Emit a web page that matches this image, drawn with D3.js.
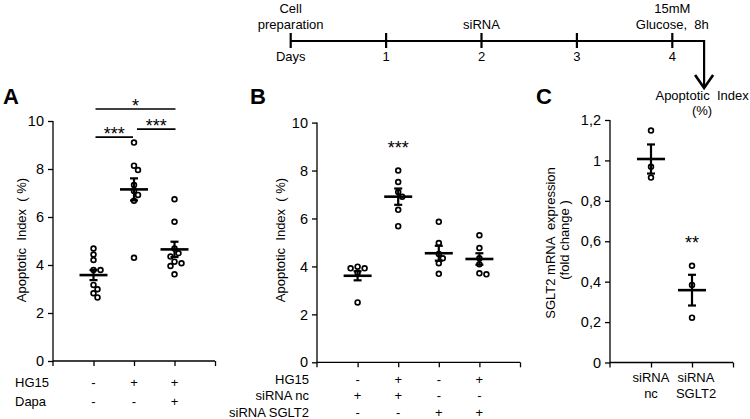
<!DOCTYPE html>
<html><head><meta charset="utf-8">
<script src="https://cdn.jsdelivr.net/npm/d3@7"></script>
<style>
html,body{margin:0;padding:0;background:#fff;}
svg{display:block;font-family:"Liberation Sans",Arial,sans-serif;}
svg text{white-space:pre;}
</style></head>
<body><svg id="c" width="750" height="419"></svg>
<script>
// ---------- DATA ----------
// Panel A: Apoptotic index (%)
const rowsA = ["HG15","Dapa"];
const signsA = [["-","+","+"],["-","-","+"]];
const pointsA = [
  [4.69,4.44,4.21,3.79,3.79,3.17,2.99,2.82,2.65],
  [9.10,8.14,7.96,7.33,7.08,6.92,6.68,4.30],
  [6.74,5.80,4.69,4.49,4.35,4.14,4.07,3.96,3.61]
];
const meansA = [3.58,7.15,4.65];
const semA = [0.21,0.46,0.32];
const sigA = [
  {from:1,to:3,level:10.5,label:"*"},
  {from:1,to:2,level:9.33,label:"***"},
  {from:2,to:3,level:9.66,label:"***"}
];
const ticksA = [0,2,4,6,8,10];

// Panel B
const rowsB = ["HG15","siRNA nc","siRNA SGLT2"];
const signsB = [["-","+","-","+"],["+","+","-","-"],["-","-","+","+"]];
const pointsB = [
  [3.99,3.92,3.92,3.74,2.50],
  [8.00,7.52,7.10,6.91,6.36,5.68],
  [5.86,4.98,4.52,4.34,4.13,3.69],
  [5.30,4.77,4.34,4.09,3.71,3.67]
];
const meansB = [3.61,6.91,4.55,4.31];
const semB = [0.19,0.34,0.31,0.24];
const sigB = [{group:2,level:8.68,label:"***"}];
const ticksB = [0,2,4,6,8,10];

// Panel C: SGLT2 mRNA expression (fold change)
const catsC = [["siRNA","nc"],["siRNA","SGLT2"]];
const pointsC = [[1.148,0.969,0.915],[0.479,0.384,0.222]];
const meansC = [1.007,0.358];
const semC = [0.072,0.076];
const sigC = [{group:2,level:0.563,label:"**"}];
const ticksC = [0,0.2,0.4,0.6,0.8,1.0,1.2];

// Timeline
const dayTicks = [0,1,2,3,4];
const dayLabels = ["Days","1","2","3","4"];
const events = [{day:0,lines:["Cell","preparation"]},{day:2,lines:["siRNA"]},{day:4,lines:["15mM","Glucose,  8h"]}];
const endDay = 4 + 8/24;
const readout = ["Apoptotic  Index","(%)"];

// ---------- DRAW ----------
const svg = d3.select("#c");
const FS = 13;
const TFS = 14.5;
const ink = "#000";

function dodge(vals, y, r){
  const placed = [];
  const order = vals.map((v,i)=>i).sort((a,b)=>vals[b]-vals[a]);
  const offs = [0,4,-4,7,-7,10,-10,13,-13];
  const res = new Array(vals.length);
  order.forEach(i=>{
    const py = y(vals[i]);
    for(const o of offs){
      if(placed.every(p=>Math.hypot(p[0]-o,p[1]-py) >= 2*r+0.5)){
        placed.push([o,py]); res[i]=o; break;
      }
    }
    if(res[i]===undefined){res[i]=0;}
  });
  return res;
}

function panel(opt){
  const g = svg.append("g");
  const x = d3.scaleLinear().domain([0,opt.n+1]).range(opt.xr);
  const y = d3.scaleLinear().domain(opt.yd).range(opt.yr);
  const ya = g.append("g").attr("transform",`translate(${opt.xr[0]},0)`)
    .call(d3.axisLeft(y).tickValues(opt.ticks).tickSize(5).tickPadding(4).tickFormat(opt.fmt||(d=>d)));
  ya.select(".domain").attr("d",`M0,${opt.yr[1]}V${opt.yr[0]+5}`);
  const xa = g.append("g").attr("transform",`translate(0,${opt.yr[0]})`)
    .call(d3.axisBottom(x).tickValues(d3.range(1,opt.n+2)).tickSize(5).tickFormat(""));
  xa.select(".domain").attr("d",`M${opt.xr[0]},0H${opt.xr[1]}`);
  [ya,xa].forEach(a=>{
    a.selectAll("path,line").attr("stroke",ink).attr("stroke-width",1.3);
    a.selectAll("text").attr("font-size",TFS).attr("fill",ink).attr("font-family","Liberation Sans, Arial, sans-serif");
  });
  opt.points.forEach((vals,gi)=>{
    const offs = dodge(vals,y,2.5);
    const cx = x(gi+1);
    g.selectAll(null).data(vals).enter().append("circle")
      .attr("cx",(d,i)=>cx+offs[i]).attr("cy",d=>y(d)).attr("r",2.4)
      .attr("fill","#fff").attr("stroke",ink).attr("stroke-width",1.7);
    const m = opt.means[gi], s = opt.sem[gi];
    g.append("line").attr("x1",cx-14).attr("x2",cx+14).attr("y1",y(m)).attr("y2",y(m))
      .attr("stroke",ink).attr("stroke-width",2.6);
    g.append("line").attr("x1",cx).attr("x2",cx).attr("y1",y(m-s)).attr("y2",y(m+s))
      .attr("stroke",ink).attr("stroke-width",2.2);
    [m-s,m+s].forEach(v=>g.append("line").attr("x1",cx-4).attr("x2",cx+4).attr("y1",y(v)).attr("y2",y(v))
      .attr("stroke",ink).attr("stroke-width",2.2));
  });
  return {g,x,y};
}

// Panel A
const A = panel({n:3,xr:[53,215],yd:[0,10],yr:[361,121],ticks:ticksA,points:pointsA,means:meansA,sem:semA});
rowsA.forEach((r,ri)=>{
  const by = 387 + ri*19;
  A.g.append("text").attr("x",15).attr("y",by).attr("font-size",FS).text(r);
  signsA[ri].forEach((s,gi)=>A.g.append("text").attr("x",A.x(gi+1)).attr("y",by).attr("text-anchor","middle").attr("font-size",FS).text(s));
});
sigA.forEach((s,i)=>{
  const ly = A.y(s.level);
  const x1 = A.x(s.from) + (i===2?3:2), x2 = A.x(s.to) + (i===1?-1:1);
  A.g.append("line").attr("x1",x1).attr("x2",x2).attr("y1",ly).attr("y2",ly).attr("stroke",ink).attr("stroke-width",1.6);
  A.g.append("text").attr("x",(x1+x2)/2).attr("y",ly+3).attr("text-anchor","middle").attr("font-size",18).text(s.label);
});
A.g.append("text").attr("transform","translate(26,240) rotate(-90)").attr("text-anchor","middle").attr("font-size",FS).text("Apoptotic  Index  ( %)");
svg.append("text").attr("x",3).attr("y",104).attr("font-size",22).attr("font-weight","bold").text("A");

// Panel B
const B = panel({n:4,xr:[317,520],yd:[0,10],yr:[362.3,122.6],ticks:ticksB,points:pointsB,means:meansB,sem:semB});
rowsB.forEach((r,ri)=>{
  const by = 384 + ri*16.3;
  B.g.append("text").attr("x",309).attr("y",by).attr("text-anchor","end").attr("font-size",FS).text(r);
  signsB[ri].forEach((s,gi)=>B.g.append("text").attr("x",B.x(gi+1)).attr("y",by).attr("text-anchor","middle").attr("font-size",FS).text(s));
});
sigB.forEach(s=>B.g.append("text").attr("x",B.x(s.group)).attr("y",B.y(s.level)).attr("text-anchor","middle").attr("font-size",18).text(s.label));
B.g.append("text").attr("transform","translate(285,240) rotate(-90)").attr("text-anchor","middle").attr("font-size",FS).text("Apoptotic  Index  ( %)");
svg.append("text").attr("x",250).attr("y",104).attr("font-size",22).attr("font-weight","bold").text("B");

// Panel C
const C = panel({n:2,xr:[610,733],yd:[0,1.2],yr:[362.5,120],ticks:ticksC,points:pointsC,means:meansC,sem:semC,
  fmt:d=>String(+d.toFixed(1)).replace(".",",")});
catsC.forEach((lines,gi)=>{
  lines.forEach((t,li)=>C.g.append("text").attr("x",C.x(gi+1)+(gi===1?4:0)).attr("y",382+li*16).attr("text-anchor","middle").attr("font-size",FS).text(t));
});
sigC.forEach(s=>C.g.append("text").attr("x",C.x(s.group)).attr("y",C.y(s.level)).attr("text-anchor","middle").attr("font-size",18).text(s.label));
C.g.append("text").attr("transform","translate(555,243) rotate(-90)").attr("text-anchor","middle").attr("font-size",FS).text("SGLT2 mRNA  expression");
C.g.append("text").attr("transform","translate(569,240) rotate(-90)").attr("text-anchor","middle").attr("font-size",FS).text("(fold change )");
svg.append("text").attr("x",536).attr("y",104).attr("font-size",22).attr("font-weight","bold").text("C");

// Timeline
const T = d3.scaleLinear().domain([0,4]).range([290.7,672.3]);
const tl = svg.append("g");
const lineY = 41;
tl.append("line").attr("x1",T(0)).attr("x2",T(endDay)).attr("y1",lineY).attr("y2",lineY).attr("stroke",ink).attr("stroke-width",2.2);
tl.selectAll(null).data(dayTicks).enter().append("line")
  .attr("x1",d=>T(d)).attr("x2",d=>T(d)).attr("y1",lineY-8).attr("y2",lineY+7).attr("stroke",ink).attr("stroke-width",2.2);
tl.selectAll(null).data(dayTicks).enter().append("text")
  .attr("x",d=>T(d)).attr("y",61).attr("text-anchor","middle").attr("font-size",FS).text((d,i)=>dayLabels[i]);
events.forEach(e=>{
  const n = e.lines.length;
  e.lines.forEach((t,i)=>tl.append("text").attr("x",T(e.day)).attr("y",29-(n-1-i)*16).attr("text-anchor","middle").attr("font-size",FS).text(t));
});
const ax = T(endDay);
tl.append("line").attr("x1",ax).attr("x2",ax).attr("y1",lineY-1).attr("y2",87).attr("stroke",ink).attr("stroke-width",2.2);
tl.append("path").attr("d",`M${ax-9},75L${ax},88L${ax+9},75`).attr("fill","none").attr("stroke",ink).attr("stroke-width",2.6);
readout.forEach((t,i)=>tl.append("text").attr("x",ax-2).attr("y",100+i*15).attr("text-anchor","middle").attr("font-size",FS).text(t));
</script></body></html>
